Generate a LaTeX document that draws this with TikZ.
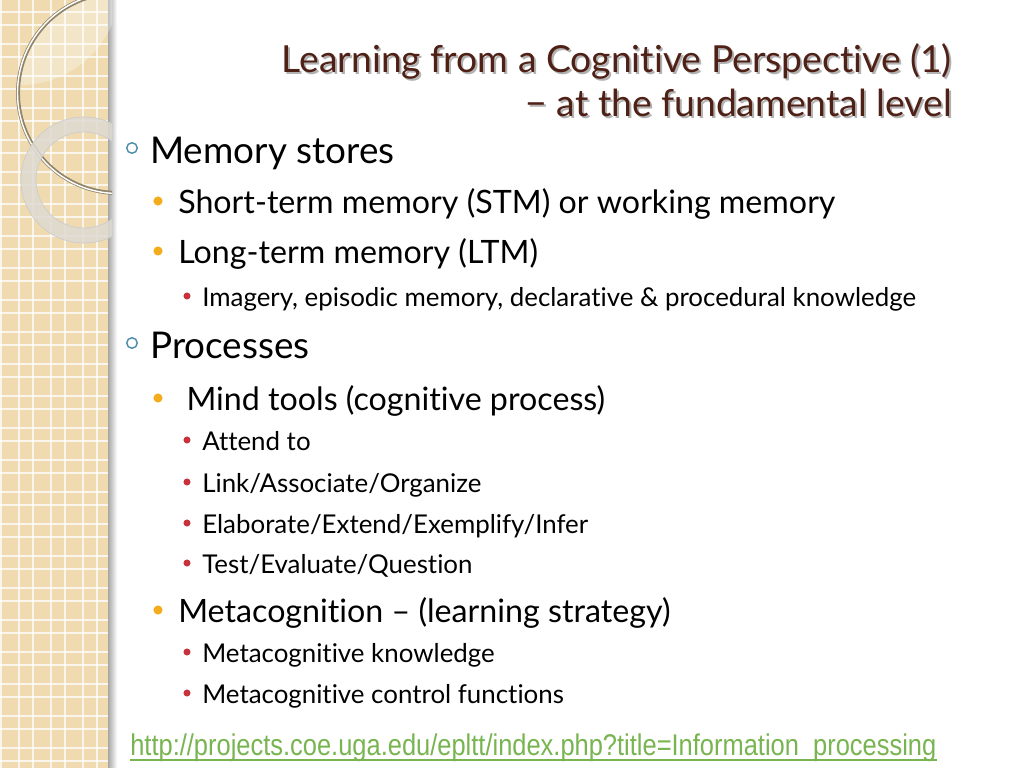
\documentclass[tikz,border=0pt]{standalone}
\usepackage{fontspec}
\setmainfont{Lato}[Ligatures={NoCommon,NoContextual}]
\newfontfamily\urlfont[FakeStretch=0.85]{Liberation Sans}
\usepackage{tikz}
\usetikzlibrary{positioning,calc}
\definecolor{titlebrown}{HTML}{4F2016}
\definecolor{stripbeige}{HTML}{EFDBAF}
\definecolor{ringgray}{HTML}{DEDAD2}
\definecolor{dotteal}{HTML}{4A8CA8}
\definecolor{dotorange}{HTML}{F2AC1C}
\definecolor{dotred}{HTML}{C8323C}
\definecolor{urlgreen}{HTML}{78B550}

\begin{document}
\begin{tikzpicture}[
    x=0.025cm, y=-0.025cm,
    title/.style={anchor=base east, inner sep=0pt, text=titlebrown, font=\fontsize{26.5pt}{30pt}\selectfont},
    titleshadow/.style={title, text=black!30},
    levelA/.style={anchor=base west, inner sep=0pt, font=\fontsize{26.2pt}{30pt}\selectfont},
    levelB/.style={anchor=base west, inner sep=0pt, font=\fontsize{22.9pt}{26pt}\selectfont},
    levelC/.style={anchor=base west, inner sep=0pt, font=\fontsize{18.4pt}{21pt}\selectfont},
    ringA/.style={circle, draw=dotteal, line width=1pt, fill=white, inner sep=0pt, minimum size=7.5},
    dotB/.style={circle, fill=dotorange, inner sep=0pt, minimum size=6.5},
    dotC/.style={circle, fill=dotred, inner sep=0pt, minimum size=5},
    gridline/.style={white, line width=1.4pt, opacity=0.75}
]
    \useasboundingbox (0,0) rectangle (1024,768);
    \fill[white] (0,0) rectangle (1024,768);

    % Left strip
    \fill[stripbeige] (0,0) rectangle (110,768);
    \foreach \k in {0,...,24} {
        \draw[gridline] (0,12+32*\k) -- (110,12+32*\k);
        \draw[gridline] (0,25+32*\k) -- (110,25+32*\k);
    }
    \foreach \k in {0,...,3} {
        \draw[gridline] (1+32*\k,0) -- (1+32*\k,768);
        \draw[gridline] (19+32*\k,0) -- (19+32*\k,768);
    }
    \shade[left color=black!35, right color=white] (108,0) rectangle (117,768);

    % Circles
    \begin{scope}
        \clip (0,0) rectangle (112,768);
        \begin{scope}
            \clip (118,93) circle (99);
            \fill[white, opacity=0.3] (20,-15) circle (100);
        \end{scope}
        \draw[black!40!stripbeige, line width=2.8] (118,93) circle (100);
        \draw[white, line width=1] (118,93) circle (100.5);
        \fill[ringgray, opacity=0.85, even odd rule] (84,180) circle (63) (84,180) circle (48);
        \draw[black!20, line width=0.5] (84,180) circle (63) (84,180) circle (48);
    \end{scope}

    % Title
    \node[titleshadow] (t1s) at (954,75) {Learning from a Cognitive Perspective (1)};
    \node[titleshadow] (t2s) at (954,119) {\textminus\ at the fundamental level};
    \node[title] (t1) at (952,73) {Learning from a Cognitive Perspective (1)};
    \node[title] (t2) at (952,117) {\textminus\ at the fundamental level};

    % Memory stores
    \node[levelA] (mem) at (150,163) {Memory stores};
    \node[levelB] (stm) at (178,213) {Short-term memory (STM) or working memory};
    \node[levelB] (ltm) at (178,263) {Long-term memory (LTM)};
    \node[levelC] (img) at (202,306) {Imagery, episodic memory, declarative \& procedural knowledge};

    % Processes
    \node[levelA] (proc) at (150,358) {Processes};
    \node[levelB] (mind) at (178,410) {\ Mind tools (cognitive process)};
    \node[levelC] (att) at (202,450) {Attend to};
    \node[levelC] (link) at (202,492) {Link/Associate/Organize};
    \node[levelC] (elab) at (202,533) {Elaborate/Extend/Exemplify/Infer};
    \node[levelC] (test) at (202,573) {Test/Evaluate/Question};
    \node[levelB] (meta) at (178,622) {Metacognition \textendash\ (learning strategy)};
    \node[levelC] (mk) at (202,662) {Metacognitive knowledge};
    \node[levelC] (mc) at (202,703) {Metacognitive control functions};

    % Bullets
    \foreach \n in {mem, proc} {
        \node[ringA] at ($(\n.base west)+(-18,-15)$) {};
    }
    \foreach \n in {stm, ltm, mind, meta} {
        \node[dotB] at ($(\n.base west)+(-20,-12)$) {};
    }
    \foreach \n in {img, att, link, elab, test, mk, mc} {
        \node[dotC] at ($(\n.base west)+(-15,-10)$) {};
    }

    % Source
    \node[anchor=base west, inner sep=0pt, text=urlgreen, font=\urlfont\fontsize{21.3pt}{24pt}\selectfont] (url) at (130,755) {http://projects.coe.uga.edu/epltt/index.php?title=Information\_processing};
    \draw[urlgreen, line width=1.2] ($(url.base west)+(0,5)$) -- ($(url.base east)+(0,5)$);
\end{tikzpicture}
\end{document}
